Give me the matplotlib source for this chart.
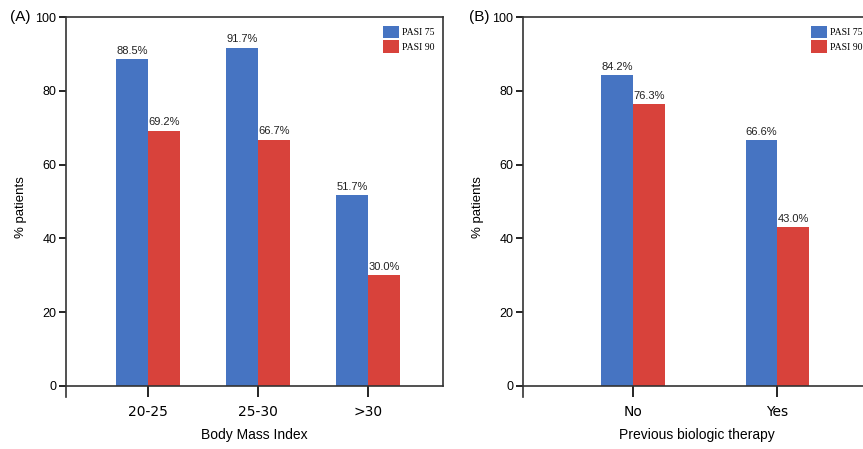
import numpy as np
import matplotlib.pyplot as plt

bmi_groups = ['20-25', '25-30', '>30']
bmi_pasi75 = [88.5, 91.7, 51.7]
bmi_pasi90 = [69.2, 66.7, 30.0]

bio_groups = ['No', 'Yes']
bio_pasi75 = [84.2, 66.6]
bio_pasi90 = [76.3, 43.0]

blue = '#4674c2'
red = '#d8423b'
sans = 'Liberation Sans'

fig = plt.figure(figsize=(8.63, 4.49), dpi=100)
axA = fig.add_axes([0.0765, 0.1158, 0.4368, 0.8463])
axB = fig.add_axes([0.606, 0.1158, 0.4032, 0.8463])


def panel(ax, groups, p75, p90, width, xlim, xlabel, tag, tagx):
    x = np.arange(len(groups))
    b1 = ax.bar(x - width / 2, p75, width, color=blue, label='PASI 75')
    b2 = ax.bar(x + width / 2, p90, width, color=red, label='PASI 90')
    for bars in (b1, b2):
        for r in bars:
            ax.text(r.get_x() + r.get_width() / 2, r.get_height() + 1,
                    f'{r.get_height():.1f}%', ha='center', va='bottom',
                    fontsize=8, family=sans, color='#222222')
    ax.set_xlim(*xlim)
    ax.set_ylim(-3, 100)
    ax.set_yticks([0, 20, 40, 60, 80, 100])
    ax.set_xticks(x)
    ax.set_xticklabels(groups, family=sans, fontsize=9)
    for lab in ax.get_yticklabels():
        lab.set_family(sans)
        lab.set_fontsize(9)
    ax.spines['bottom'].set_position(('data', 0))
    ax.spines['right'].set_bounds(0, 100)
    for s in ax.spines.values():
        s.set_linewidth(1.2)
        s.set_color('#333333')
    ax.tick_params(axis='y', length=5, width=1.2, pad=2)
    ax.tick_params(axis='x', length=8, width=1.2, pad=6)
    ax.set_ylabel('% patients', family=sans, fontsize=9.5, labelpad=6)
    ax.set_xlabel(xlabel, family=sans, fontsize=10, labelpad=6)
    ax.text(tagx, 1.0, tag, transform=ax.transAxes, fontsize=11,
            family=sans, ha='left', va='center')
    ax.legend(loc='upper right', frameon=False, handlelength=1.6,
              handleheight=1.6, borderaxespad=0.5, labelspacing=0.2,
              handletextpad=0.3, prop={'family': 'Liberation Serif', 'size': 7})


panel(axA, bmi_groups, bmi_pasi75, bmi_pasi90, 0.29, (-0.745, 2.68),
      'Body Mass Index', '(A)', -0.148)
panel(axB, bio_groups, bio_pasi75, bio_pasi90, 0.22, (-0.764, 1.65),
      'Previous biologic therapy', '(B)', -0.155)

fig.savefig('out.png', dpi=100)
